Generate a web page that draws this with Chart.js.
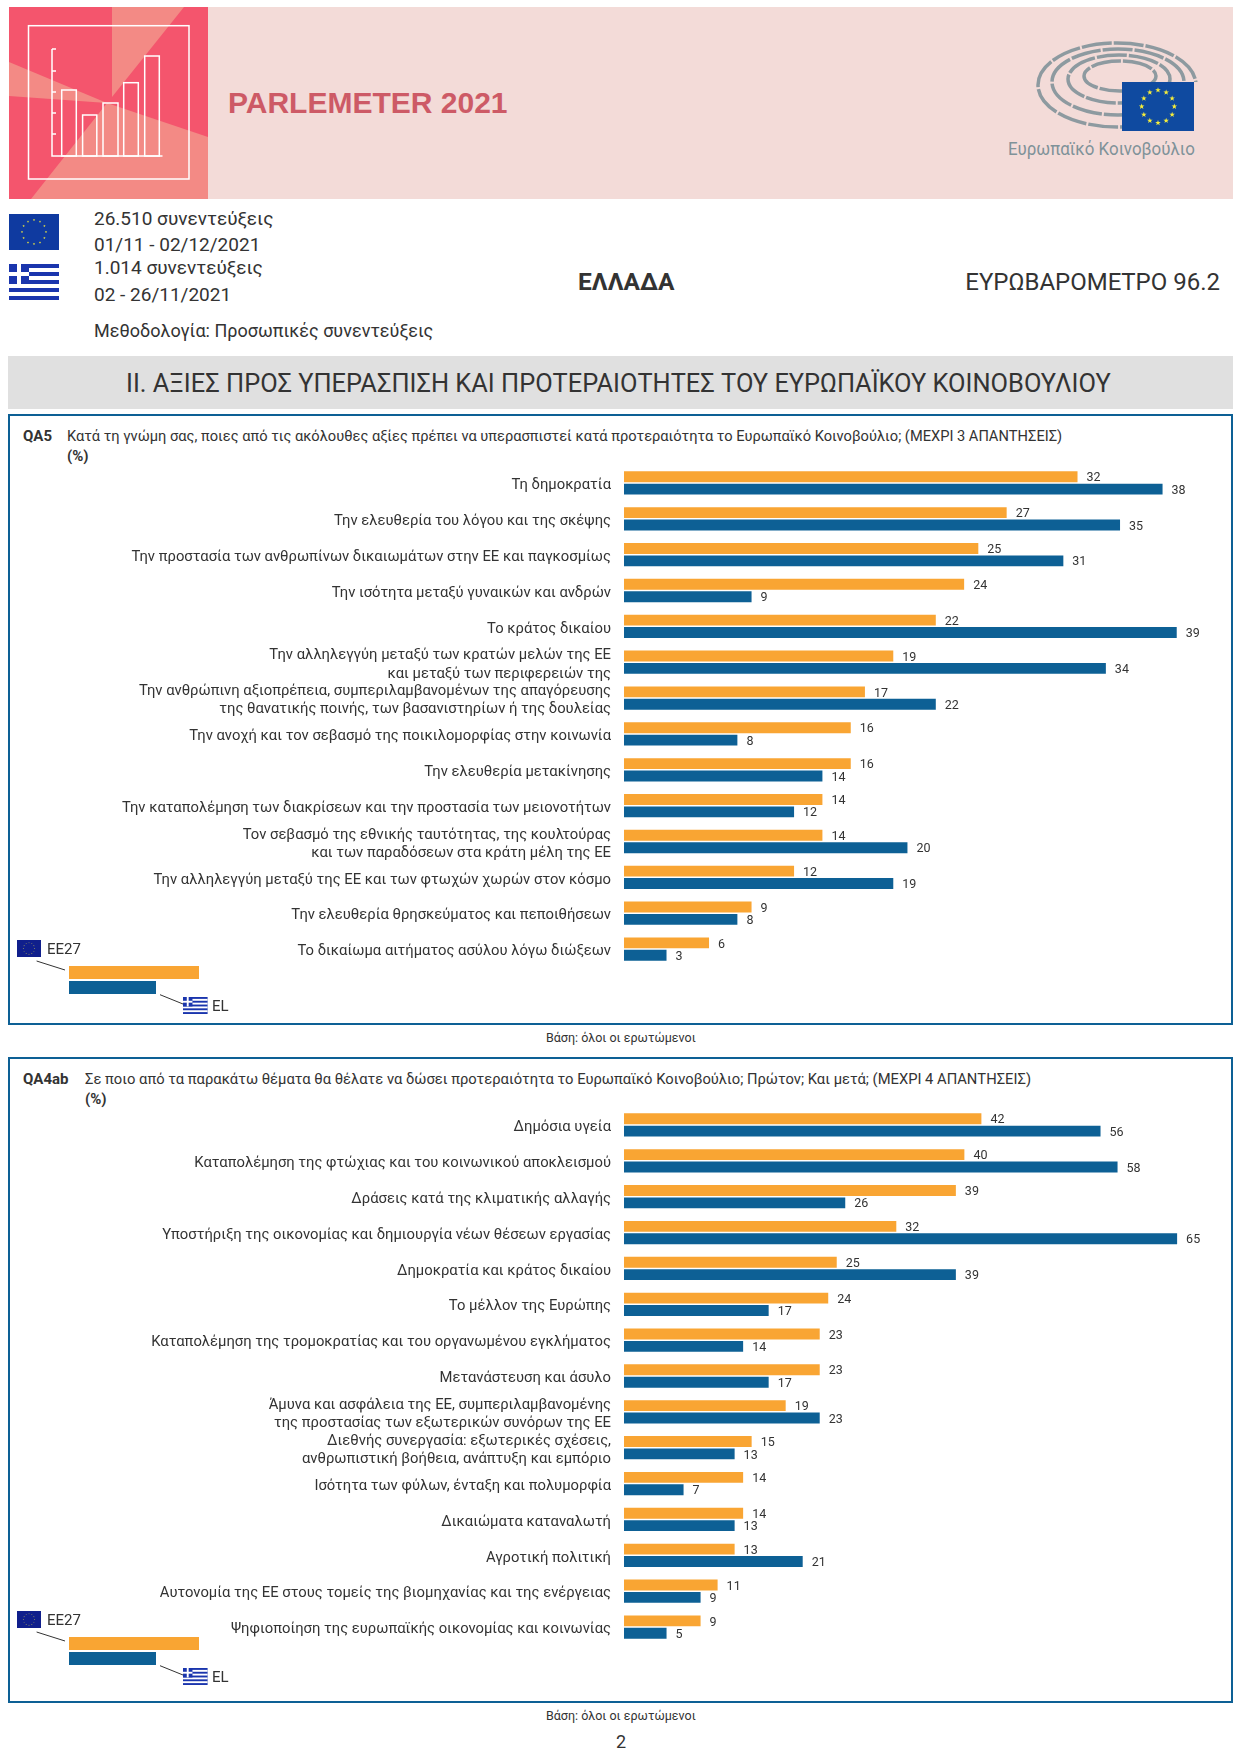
<!DOCTYPE html>
<html lang="el">
<head>
<meta charset="utf-8">
<title>Parlemeter 2021</title>
<script src="https://cdn.jsdelivr.net/npm/chart.js@4"></script>
<style>
  html, body { margin: 0; padding: 0; background: #fff; }
  #page { position: relative; width: 1240px; height: 1754px; overflow: hidden; font-family: Roboto, sans-serif; color: #333; }
  .t { position: absolute; white-space: nowrap; line-height: 1; transform: translateY(-50%); }
  .box { position: absolute; left: 8px; width: 1221px; border: 2px solid #0d6095; background: #fff; }
  .k { position: absolute; left: 69px; height: 13px; }
  canvas { position: absolute; left: 8px; }
  svg { position: absolute; overflow: visible; }
</style>
</head>
<body>
<div id="page">
  <div style="position:absolute;left:9px;top:7px;width:1224px;height:192px;background:#f3dbd8"></div>
  <svg style="left:0;top:0" width="1240" height="310" id="art"></svg>
  <div class="t" style="left:228px;top:103px;font:bold 30px 'Liberation Sans';color:#cd5a66">PARLEMETER 2021</div>
  <div class="t" style="left:1008px;top:148px;font-size:19px;color:#7f9299;transform:translateY(-50%) scaleX(.89);transform-origin:left center">Ευρωπαϊκό Κοινοβούλιο</div>

  <div class="t" style="left:94px;top:218px;font-size:19px">26.510 συνεντεύξεις</div>
  <div class="t" style="left:94px;top:244px;font-size:19px">01/11 - 02/12/2021</div>
  <div class="t" style="left:94px;top:267px;font-size:19px">1.014 συνεντεύξεις</div>
  <div class="t" style="left:94px;top:294px;font-size:19px">02 - 26/11/2021</div>
  <div class="t" style="left:94px;top:331px;font-size:18px">Μεθοδολογία: Προσωπικές συνεντεύξεις</div>
  <div class="t" style="left:578px;top:282px;font-size:24.5px;font-weight:700">ΕΛΛΑΔΑ</div>
  <div class="t" style="right:20px;top:282px;font-size:24px">ΕΥΡΩΒΑΡΟΜΕΤΡΟ 96.2</div>

  <div style="position:absolute;left:8px;top:356px;width:1225px;height:53px;background:#e0e0e0"></div>
  <div class="t" style="left:126px;top:384px;font-size:25.4px">II. ΑΞΙΕΣ ΠΡΟΣ ΥΠΕΡΑΣΠΙΣΗ ΚΑΙ ΠΡΟΤΕΡΑΙΟΤΗΤΕΣ ΤΟΥ ΕΥΡΩΠΑΪΚΟΥ ΚΟΙΝΟΒΟΥΛΙΟΥ</div>

  <div class="box" style="top:414px;height:607px"></div>
  <div class="t" style="left:23px;top:436px;font-size:15px;font-weight:700">QA5</div>
  <div class="t" style="left:67px;top:436px;font-size:14.65px">Κατά τη γνώμη σας, ποιες από τις ακόλουθες αξίες πρέπει να υπερασπιστεί κατά προτεραιότητα το Ευρωπαϊκό Κοινοβούλιο; (ΜΕΧΡΙ 3 ΑΠΑΝΤΗΣΕΙΣ)</div>
  <div class="t" style="left:67px;top:456px;font-size:15px;font-weight:700">(%)</div>
  <canvas id="qa5" style="top:465px"></canvas>
  <div class="t" style="left:546px;top:1038px;font-size:12.5px">Βάση: όλοι οι ερωτώμενοι</div>

  <div class="box" style="top:1057px;height:642px"></div>
  <div class="t" style="left:23px;top:1079px;font-size:15px;font-weight:700">QA4ab</div>
  <div class="t" style="left:85px;top:1079px;font-size:14.75px">Σε ποιο από τα παρακάτω θέματα θα θέλατε να δώσει προτεραιότητα το Ευρωπαϊκό Κοινοβούλιο; Πρώτον; Και μετά; (ΜΕΧΡΙ 4 ΑΠΑΝΤΗΣΕΙΣ)</div>
  <div class="t" style="left:85px;top:1099px;font-size:15px;font-weight:700">(%)</div>
  <canvas id="qa4" style="top:1107px"></canvas>
  <div class="t" style="left:546px;top:1716px;font-size:12.5px">Βάση: όλοι οι ερωτώμενοι</div>
  <div class="t" style="left:616px;top:1742px;font-size:18px">2</div>

  <!-- legend keys, second one is the first moved down -->
  <div class="k" style="top:966px;width:130px;background:#f9a533"></div>
  <div class="k" style="top:981px;width:87px;background:#0d6095"></div>
  <div class="t" style="left:47px;top:949px;font-size:15px">ΕΕ27</div>
  <div class="t" style="left:212px;top:1006px;font-size:15px">EL</div>
  <div class="k" style="top:1637px;width:130px;background:#f9a533"></div>
  <div class="k" style="top:1652px;width:87px;background:#0d6095"></div>
  <div class="t" style="left:47px;top:1620px;font-size:15px">ΕΕ27</div>
  <div class="t" style="left:212px;top:1677px;font-size:15px">EL</div>
  <svg style="left:0;top:0" width="1240" height="1754" id="keys"></svg>
</div>

<script>
const seriesNames = ["ΕΕ27", "EL"];
const orange = "#f9a533";
const blue = "#0d6095";

const qa5Labels = [
  "Τη δημοκρατία",
  "Την ελευθερία του λόγου και της σκέψης",
  "Την προστασία των ανθρωπίνων δικαιωμάτων στην ΕΕ και παγκοσμίως",
  "Την ισότητα μεταξύ γυναικών και ανδρών",
  "Το κράτος δικαίου",
  ["Την αλληλεγγύη μεταξύ των κρατών μελών της ΕΕ", "και μεταξύ των περιφερειών της"],
  ["Την ανθρώπινη αξιοπρέπεια, συμπεριλαμβανομένων της απαγόρευσης", "της θανατικής ποινής, των βασανιστηρίων ή της δουλείας"],
  "Την ανοχή και τον σεβασμό της ποικιλομορφίας στην κοινωνία",
  "Την ελευθερία μετακίνησης",
  "Την καταπολέμηση των διακρίσεων και την προστασία των μειονοτήτων",
  ["Τον σεβασμό της εθνικής ταυτότητας, της κουλτούρας", "και των παραδόσεων στα κράτη μέλη της ΕΕ"],
  "Την αλληλεγγύη μεταξύ της ΕΕ και των φτωχών χωρών στον κόσμο",
  "Την ελευθερία θρησκεύματος και πεποιθήσεων",
  "Το δικαίωμα αιτήματος ασύλου λόγω διώξεων"
];
const qa5EU = [32, 27, 25, 24, 22, 19, 17, 16, 16, 14, 14, 12, 9, 6];
const qa5EL = [38, 35, 31, 9, 39, 34, 22, 8, 14, 12, 20, 19, 8, 3];

const qa4Labels = [
  "Δημόσια υγεία",
  "Καταπολέμηση της φτώχιας και του κοινωνικού αποκλεισμού",
  "Δράσεις κατά της κλιματικής αλλαγής",
  "Υποστήριξη της οικονομίας και δημιουργία νέων θέσεων εργασίας",
  "Δημοκρατία και κράτος δικαίου",
  "Το μέλλον της Ευρώπης",
  "Καταπολέμηση της τρομοκρατίας και του οργανωμένου εγκλήματος",
  "Μετανάστευση και άσυλο",
  ["Άμυνα και ασφάλεια της ΕΕ, συμπεριλαμβανομένης", "της προστασίας των εξωτερικών συνόρων της ΕΕ"],
  ["Διεθνής συνεργασία: εξωτερικές σχέσεις,", "ανθρωπιστική βοήθεια, ανάπτυξη και εμπόριο"],
  "Ισότητα των φύλων, ένταξη και πολυμορφία",
  "Δικαιώματα καταναλωτή",
  "Αγροτική πολιτική",
  "Αυτονομία της ΕΕ στους τομείς της βιομηχανίας και της ενέργειας",
  "Ψηφιοποίηση της ευρωπαϊκής οικονομίας και κοινωνίας"
];
const qa4EU = [42, 40, 39, 32, 25, 24, 23, 23, 19, 15, 14, 14, 13, 11, 9];
const qa4EL = [56, 58, 26, 65, 39, 17, 14, 17, 23, 13, 7, 13, 21, 9, 5];

// value next to the end of each bar
const valueLabels = {
  id: "valueLabels",
  afterDatasetsDraw(chart) {
    const ctx = chart.ctx;
    ctx.save();
    ctx.font = "12.5px Roboto";
    ctx.fillStyle = "#333";
    ctx.textBaseline = "middle";
    chart.data.datasets.forEach((ds, i) => {
      chart.getDatasetMeta(i).data.forEach((bar, j) => {
        ctx.fillText(ds.data[j], bar.x + 9, bar.y + 1.5);
      });
    });
    ctx.restore();
  }
};

function drawChart(id, labels, eu, el, xMax, height) {
  const canvas = document.getElementById(id);
  canvas.width = 1224;
  canvas.height = height;
  canvas.style.width = "1224px";
  canvas.style.height = height + "px";
  new Chart(canvas, {
    type: "bar",
    data: {
      labels: labels,
      datasets: [
        { label: seriesNames[0], data: eu, backgroundColor: orange },
        { label: seriesNames[1], data: el, backgroundColor: blue }
      ]
    },
    options: {
      indexAxis: "y",
      responsive: false,
      animation: false,
      devicePixelRatio: 1,
      categoryPercentage: 0.69,
      barPercentage: 0.88,
      layout: { padding: 0 },
      plugins: { legend: { display: false }, tooltip: { enabled: false } },
      scales: {
        x: { display: false, min: 0, max: xMax },
        y: {
          // fixed label column, and no extra room above and below the first and last band
          afterFit(scale) {
            scale.width = 616;
            scale.paddingTop = 0;
            scale.paddingBottom = 0;
          },
          grid: { display: false, drawTicks: false },
          border: { display: false },
          ticks: {
            autoSkip: false,
            padding: 13,
            labelOffset: 2.5,
            color: "#333",
            font: { family: "Roboto", size: 14.8, lineHeight: 1.24 }
          }
        }
      }
    },
    plugins: [valueLabels]
  });
}

drawChart("qa5", qa5Labels, qa5EU, qa5EL, 42.9, 502);
drawChart("qa4", qa4Labels, qa4EU, qa4EL, 71.45, 538);

// flags and header artwork
function euFlag(x, y, w, h, fill, starSize) {
  let s = `<rect x="${x}" y="${y}" width="${w}" height="${h}" fill="${fill}"/>`;
  const cx = x + w / 2, cy = y + h / 2, r = h / 3, a = h * starSize;
  for (let i = 0; i < 12; i++) {
    const t = i * Math.PI / 6;
    let p = "";
    for (let k = 0; k < 10; k++) {
      const q = k * Math.PI / 5 - Math.PI / 2, rr = k % 2 ? a * 0.4 : a;
      p += `${cx + r * Math.cos(t) + rr * Math.cos(q)},${cy + r * Math.sin(t) + rr * Math.sin(q)} `;
    }
    s += `<polygon points="${p}" fill="#f7ee3a"/>`;
  }
  return s;
}
function grFlag(x, y, w, h) {
  const u = h / 9;
  let s = `<rect x="${x}" y="${y}" width="${w}" height="${h}" fill="#1a35ad"/>`;
  for (let i = 1; i < 9; i += 2) s += `<rect x="${x}" y="${y + i * u}" width="${w}" height="${u}" fill="#fff"/>`;
  s += `<rect x="${x}" y="${y}" width="${5 * u}" height="${5 * u}" fill="#1a35ad"/>`;
  s += `<rect x="${x + 2 * u}" y="${y}" width="${u}" height="${5 * u}" fill="#fff"/>`;
  s += `<rect x="${x}" y="${y + 2 * u}" width="${5 * u}" height="${u}" fill="#fff"/>`;
  return s;
}

let art = `<rect x="9" y="7" width="199" height="192" fill="#f4556d"/>
  <g fill="#f38a85">
    <polygon points="112,7 184,7 112,97"/>
    <polygon points="9,62 9,96 107,103"/>
    <polygon points="31,199 208,199 208,137 107,103"/>
  </g>
  <g fill="none" stroke="#fff" stroke-width="1.5">
    <rect x="28.5" y="25.7" width="160.5" height="153.3"/>
    <path d="M52 49V156H162.5M52 49h4M52 71h4M52 92h4M52 113h4M52 134h4"/>
    <rect x="61.7" y="90" width="14.6" height="66"/>
    <rect x="82.6" y="115" width="14.2" height="41"/>
    <rect x="103" y="103" width="15" height="53"/>
    <rect x="123.7" y="82.7" width="14.6" height="73.3"/>
    <rect x="144.7" y="56" width="14.6" height="100"/>
  </g>
  <g fill="none" stroke="#8d9aa0" stroke-width="3.5" stroke-dasharray="30 2">
    <ellipse cx="1117" cy="85" rx="79" ry="42"/>
    <ellipse cx="1118" cy="82" rx="66" ry="33"/>
    <ellipse cx="1119" cy="79" rx="51" ry="24"/>
    <ellipse cx="1120" cy="76" rx="36" ry="15"/>
  </g>
  <rect x="1122" y="82" width="80" height="62" fill="#f3dbd8"/>`;
art += euFlag(1122, 82, 72, 49, "#0f4aa0", 0.06);
art += euFlag(9, 214, 50, 36, "#0f3aa0", 0.035);
art += grFlag(9, 264, 50, 36);
document.getElementById("art").innerHTML = art;

let keys = "";
[0, 671].forEach(dy => {
  keys += euFlag(17, 940 + dy, 24, 17, "#101f8c", 0.035);
  keys += grFlag(183, 997 + dy, 24.6, 17);
  keys += `<g stroke="#333" stroke-width="1"><line x1="36.6" y1="${961 + dy}" x2="65" y2="${970 + dy}"/>
    <line x1="160" y1="${994.7 + dy}" x2="183" y2="${1004 + dy}"/></g>`;
});
document.getElementById("keys").innerHTML = keys;
</script>
</body>
</html>
